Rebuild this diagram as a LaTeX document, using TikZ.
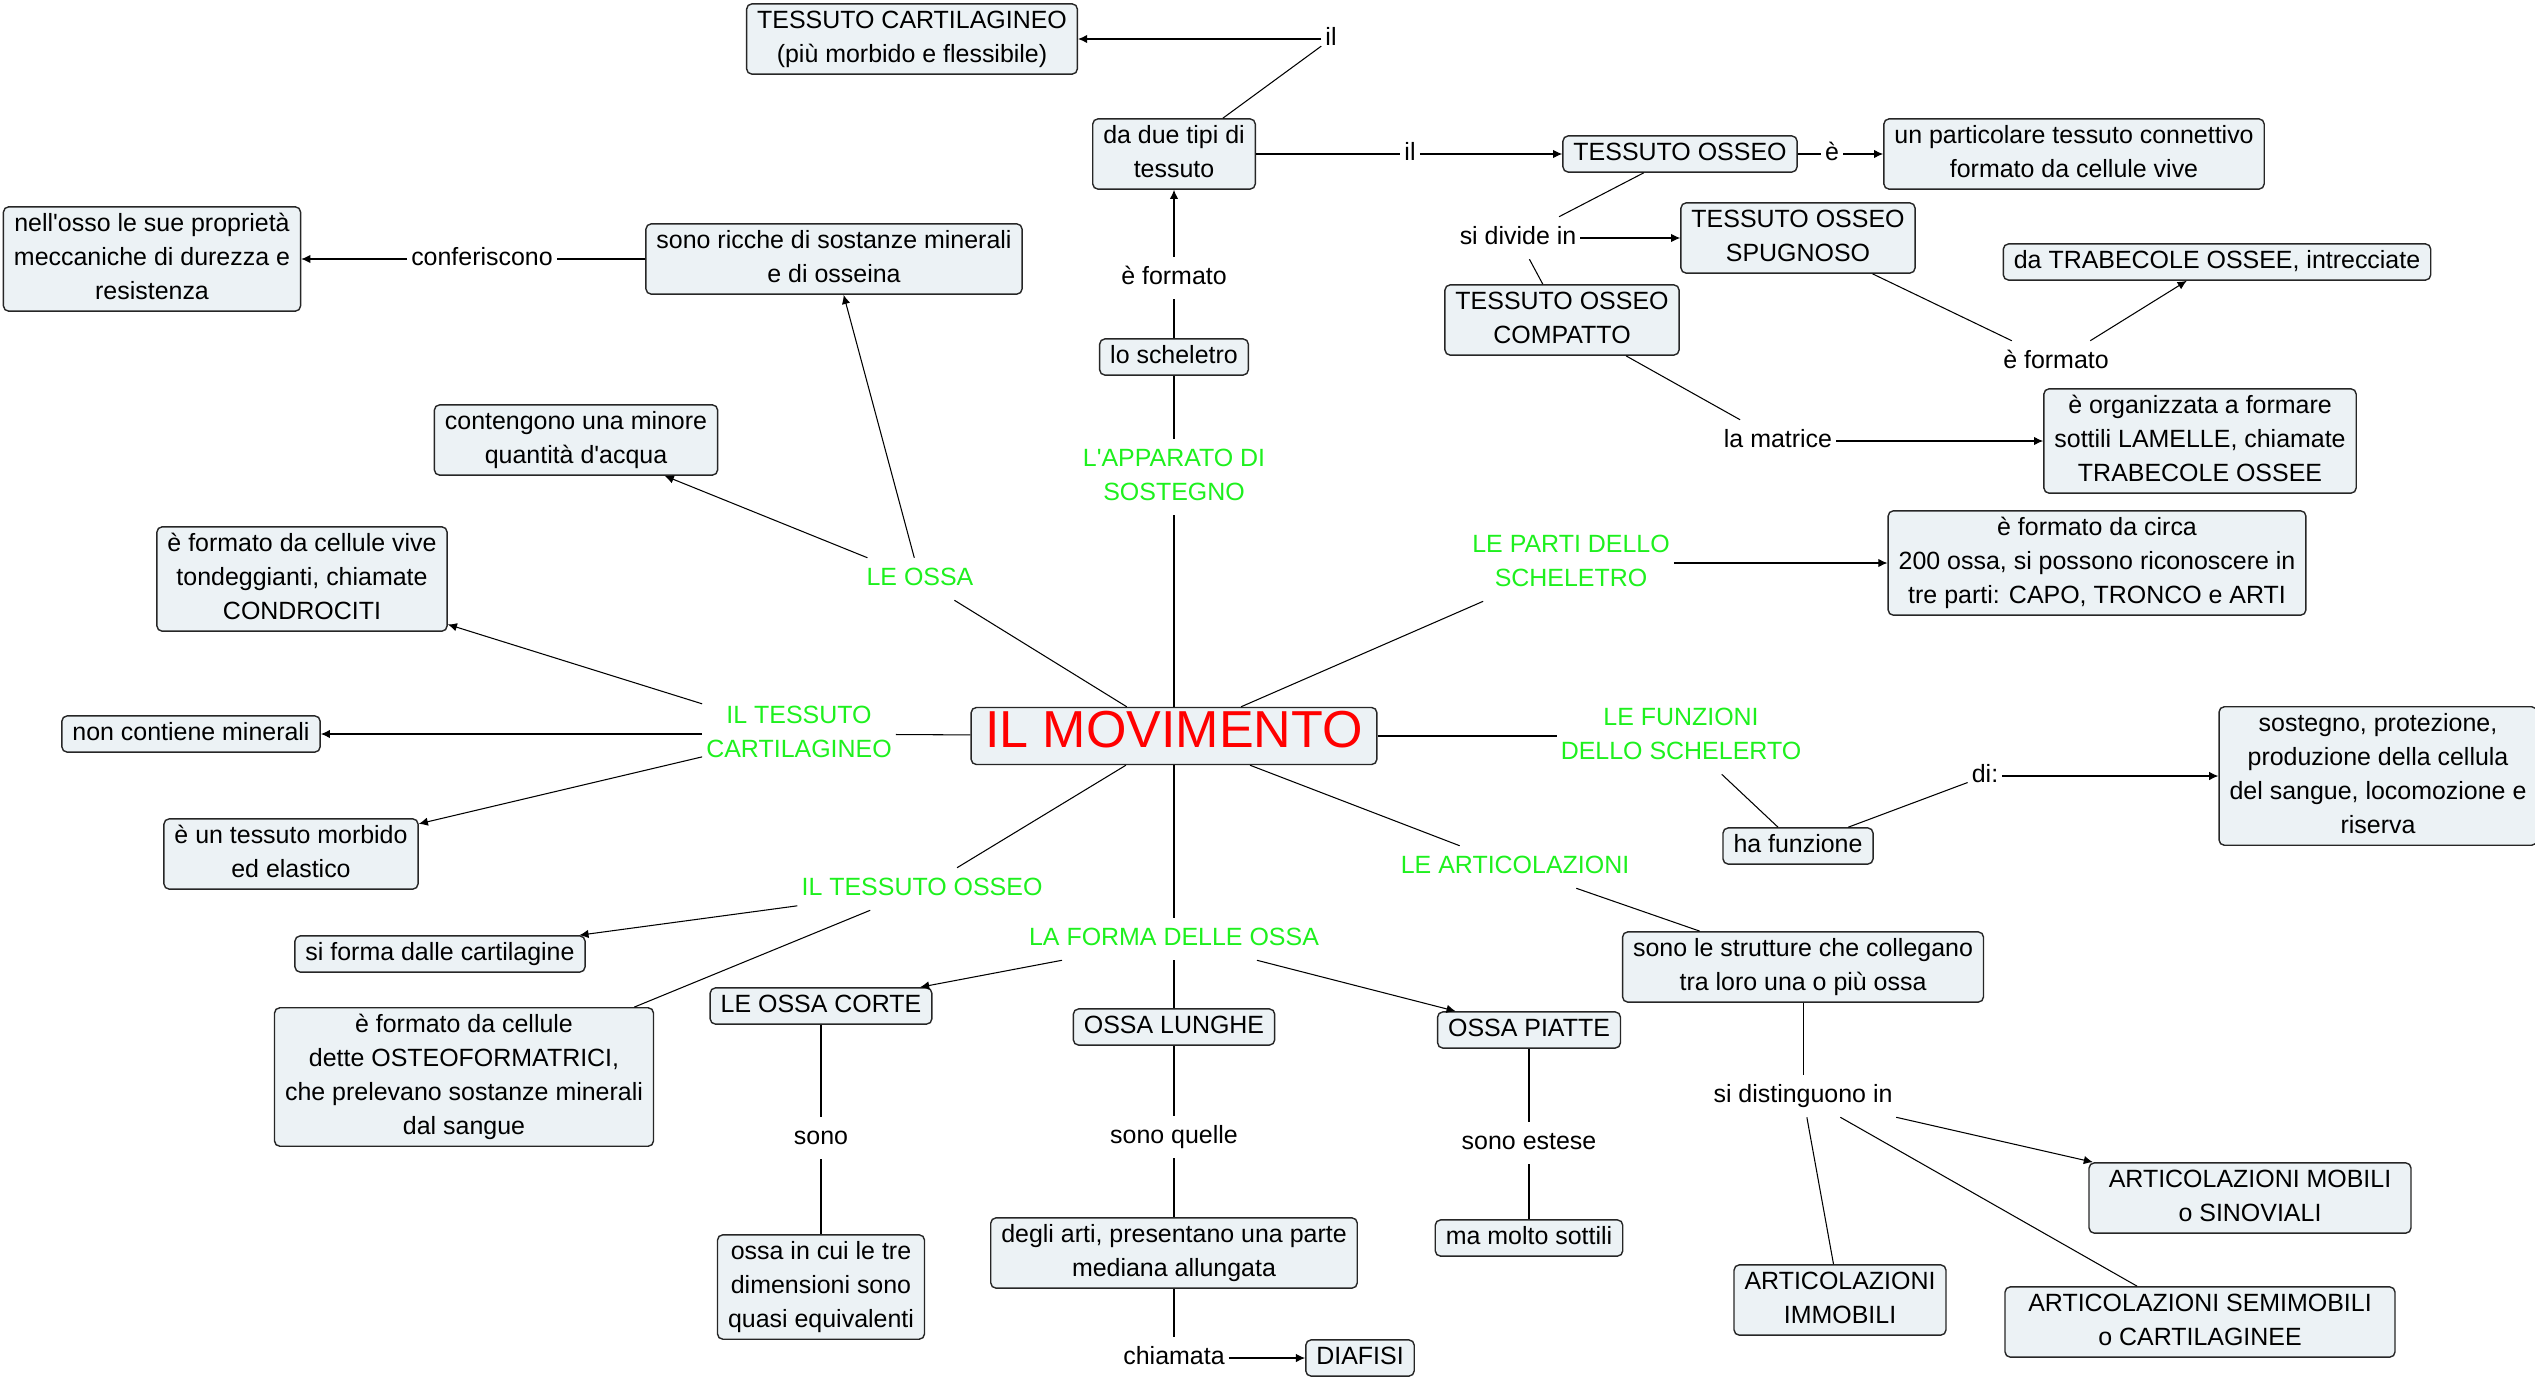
\documentclass[tikz,border=0pt]{standalone}
\usepackage{fontspec}
\setmainfont{Liberation Sans}
\usepackage{tikz}
\usetikzlibrary{arrows.meta}
\definecolor{sfondo}{RGB}{236,242,245}
\definecolor{verde}{RGB}{30,240,30}
\newcommand{\testo}{\fontsize{7.1pt}{9.7pt}\selectfont}
\newcommand{\grande}{\fontsize{14.8pt}{13pt}\selectfont}
\newcommand{\apo}{\textquotesingle}

\begin{document}
\begin{tikzpicture}[
    base/.style={rectangle, draw=black!85, line width=0.4pt, rounded corners=1.5pt, fill=sfondo, align=center, font=\testo, inner xsep=3pt, inner ysep=0.3pt},
    link/.style={font=\testo, inner sep=1pt, execute at begin node=\strut},
    topic/.style={font=\testo, text=verde, align=center, inner sep=1pt},
    line/.style={line width=0.3pt},
    arrow/.style={line width=0.3pt, -{Latex[length=2.6pt,width=2.4pt]}}
]
\useasboundingbox (0,0) rectangle (25.35,-13.77);

% Concetto principale
\node[base, font=\grande, text=red, inner xsep=4pt, inner ysep=1pt] (movimento) at (11.74,-7.36) {\strut IL MOVIMENTO};

% L'apparato di sostegno
\node[topic] (apparato) at (11.74,-4.77) {\strut L\apo APPARATO DI\\SOSTEGNO\strut};
\node[base] (scheletro) at (11.74,-3.57) {\strut lo scheletro};
\node[link] (formato1) at (11.74,-2.78) {è formato};
\node[base] (duetipi) at (11.74,-1.54) {\strut da due tipi di\\tessuto\strut};
\node[link] (il1) at (13.31,-0.39) {il};
\node[base] (cart) at (9.12,-0.39) {\strut TESSUTO CARTILAGINEO\\(più morbido e flessibile)\strut};
\node[link] (il2) at (14.10,-1.54) {il};
\node[base] (osseo) at (16.80,-1.54) {\strut TESSUTO OSSEO};
\node[link] (e1) at (18.32,-1.54) {è};
\node[base] (connettivo) at (20.74,-1.54) {\strut un particolare tessuto connettivo\\formato da cellule vive\strut};
\node[link] (sidivide) at (15.18,-2.38) {si divide in};
\node[base] (spugnoso) at (17.98,-2.38) {\strut TESSUTO OSSEO\\SPUGNOSO\strut};
\node[base] (compatto) at (15.62,-3.20) {\strut TESSUTO OSSEO\\COMPATTO\strut};
\node[link] (formato2) at (20.56,-3.62) {è formato};
\node[base] (trabecole) at (22.17,-2.62) {\strut da TRABECOLE OSSEE, intrecciate};
\node[link] (matrice) at (17.78,-4.41) {la matrice};
\node[base] (lamelle) at (22.00,-4.41) {\strut è organizzata a formare\\sottili LAMELLE, chiamate\\TRABECOLE OSSEE\strut};

% Le ossa
\node[topic] (leossa) at (9.20,-5.79) {\strut LE OSSA};
\node[base] (ricche) at (8.34,-2.59) {\strut sono ricche di sostanze minerali\\e di osseina\strut};
\node[link] (conferiscono) at (4.82,-2.59) {conferiscono};
\node[base] (proprieta) at (1.52,-2.59) {\strut nell\apo osso le sue proprietà\\meccaniche di durezza e\\resistenza\strut};
\node[base] (acqua) at (5.76,-4.40) {\strut contengono una minore\\quantità d\apo acqua\strut};

% Le parti dello scheletro
\node[topic] (parti) at (15.71,-5.63) {\strut LE PARTI DELLO\\SCHELETRO\strut};
\node[base] (circa) at (20.97,-5.63) {\strut è formato da circa\\200 ossa, si possono riconoscere in\\tre parti: CAPO, TRONCO e ARTI\strut};

% Il tessuto cartilagineo
\node[topic] (tcart) at (7.99,-7.34) {\strut IL TESSUTO\\CARTILAGINEO\strut};
\node[base] (condrociti) at (3.02,-5.79) {\strut è formato da cellule vive\\tondeggianti, chiamate\\CONDROCITI\strut};
\node[base] (minerali) at (1.91,-7.34) {\strut non contiene minerali};
\node[base] (morbido) at (2.91,-8.54) {\strut è un tessuto morbido\\ed elastico\strut};

% Le funzioni
\node[topic] (funzioni) at (16.81,-7.36) {\strut LE FUNZIONI\\DELLO SCHELERTO\strut};
\node[base] (hafunzione) at (17.98,-8.46) {\strut ha funzione};
\node[link] (di) at (19.85,-7.76) {di:};
\node[base] (sostegno) at (23.78,-7.76) {\strut sostegno, protezione,\\produzione della cellula\\del sangue, locomozione e\\riserva\strut};

% Le articolazioni
\node[topic] (articolazioni) at (15.15,-8.67) {\strut LE ARTICOLAZIONI};
\node[base] (strutture) at (18.03,-9.67) {\strut sono le strutture che collegano\\tra loro una o più ossa\strut};
\node[link] (distinguono) at (18.03,-10.96) {si distinguono in};
\node[base, minimum width=3.22cm] (mobili) at (22.50,-11.98) {\strut ARTICOLAZIONI MOBILI\\o SINOVIALI\strut};
\node[base] (immobili) at (18.40,-13.00) {\strut ARTICOLAZIONI\\IMMOBILI\strut};
\node[base, minimum width=3.9cm] (semimobili) at (22.00,-13.22) {\strut ARTICOLAZIONI SEMIMOBILI\\o CARTILAGINEE\strut};

% Il tessuto osseo
\node[topic] (tosseo) at (9.22,-8.89) {\strut IL TESSUTO OSSEO};
\node[base] (siforma) at (4.40,-9.54) {\strut si forma dalle cartilagine};
\node[base] (osteo) at (4.64,-10.77) {\strut è formato da cellule\\dette OSTEOFORMATRICI,\\che prelevano sostanze minerali\\dal sangue\strut};

% La forma delle ossa
\node[topic] (forma) at (11.74,-9.39) {\strut LA FORMA DELLE OSSA};
\node[base] (corte) at (8.21,-10.06) {\strut LE OSSA CORTE};
\node[base] (lunghe) at (11.74,-10.27) {\strut OSSA LUNGHE};
\node[base] (piatte) at (15.29,-10.30) {\strut OSSA PIATTE};
\node[link] (sono) at (8.21,-11.38) {sono};
\node[link] (sonoquelle) at (11.74,-11.37) {sono quelle};
\node[link] (estese) at (15.29,-11.43) {sono estese};
\node[base] (equivalenti) at (8.21,-12.87) {\strut ossa in cui le tre\\dimensioni sono\\quasi equivalenti\strut};
\node[base] (arti) at (11.74,-12.53) {\strut degli arti, presentano una parte\\mediana allungata\strut};
\node[base] (sottili) at (15.29,-12.38) {\strut ma molto sottili};
\node[link] (chiamata) at (11.74,-13.58) {chiamata};
\node[base] (diafisi) at (13.60,-13.58) {\strut DIAFISI};

% Collegamenti
\draw[line] (movimento) -- (apparato);
\draw[line] (apparato) -- (scheletro);
\draw[line] (scheletro) -- (formato1);
\draw[arrow] (formato1) -- (duetipi);
\draw[line] (duetipi) -- (il1);
\draw[arrow] (il1) -- (cart);
\draw[line] (duetipi) -- (il2);
\draw[arrow] (il2) -- (osseo);
\draw[line] (osseo) -- (e1);
\draw[arrow] (e1) -- (connettivo);
\draw[line] (osseo) -- (sidivide);
\draw[arrow] (sidivide) -- (spugnoso);
\draw[line] (sidivide) -- (compatto);
\draw[line] (spugnoso) -- (formato2);
\draw[arrow] (formato2) -- (trabecole);
\draw[line] (compatto) -- (matrice);
\draw[arrow] (matrice) -- (lamelle);
\draw[line] (movimento) -- (leossa);
\draw[arrow] (leossa) -- (ricche);
\draw[arrow] (leossa) -- (acqua);
\draw[line] (ricche) -- (conferiscono);
\draw[arrow] (conferiscono) -- (proprieta);
\draw[line] (movimento) -- (parti);
\draw[arrow] (parti) -- (circa);
\draw[line] (movimento) -- (tcart);
\draw[arrow] (tcart) -- (condrociti);
\draw[arrow] (tcart) -- (minerali);
\draw[arrow] (tcart) -- (morbido);
\draw[line] (movimento) -- (funzioni);
\draw[line] (funzioni) -- (hafunzione);
\draw[line] (hafunzione) -- (di);
\draw[arrow] (di) -- (sostegno);
\draw[line] (movimento) -- (articolazioni);
\draw[line] (articolazioni) -- (strutture);
\draw[line] (strutture) -- (distinguono);
\draw[arrow] (distinguono) -- (mobili);
\draw[line] (distinguono) -- (immobili);
\draw[line] (distinguono) -- (semimobili);
\draw[line] (movimento) -- (tosseo);
\draw[arrow] (tosseo) -- (siforma);
\draw[line] (tosseo) -- (osteo);
\draw[line] (movimento) -- (forma);
\draw[arrow] (forma) -- (corte);
\draw[line] (forma) -- (lunghe);
\draw[arrow] (forma) -- (piatte);
\draw[line] (corte) -- (sono);
\draw[line] (sono) -- (equivalenti);
\draw[line] (lunghe) -- (sonoquelle);
\draw[line] (sonoquelle) -- (arti);
\draw[line] (piatte) -- (estese);
\draw[line] (estese) -- (sottili);
\draw[line] (arti) -- (chiamata);
\draw[arrow] (chiamata) -- (diafisi);

\end{tikzpicture}
\end{document}
